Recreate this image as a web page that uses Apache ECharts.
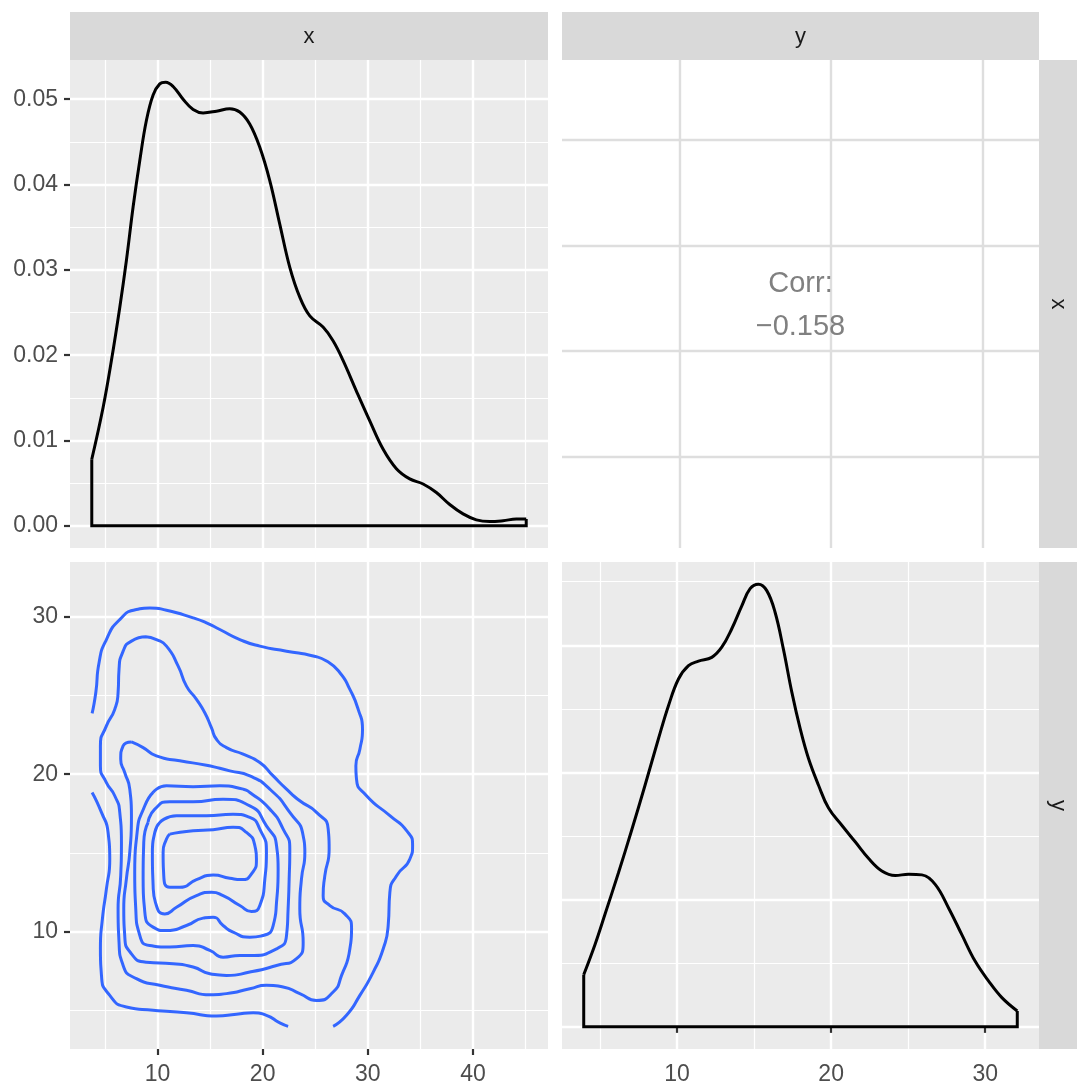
<!DOCTYPE html>
<html><head><meta charset="utf-8">
<script src="https://cdn.jsdelivr.net/npm/echarts@6/dist/echarts.min.js"></script>
<style>html,body{margin:0;padding:0;background:#fff}#c{width:1077px;height:1084px}</style>
</head><body><div id="c"></div>
<script>
// ---------- data ----------
const varNames = ['x', 'y'];
const corrTitle = 'Corr:';
const corrText = '\u22120.158';

// axis limits (ggplot-expanded)
const xVarLim = [1.69, 47.12];
const yVarLim = [2.53, 33.49];
const corrXLim = [2.26, 33.74];
const corrYLim = [1.3, 47.6];
const densXLim = [-0.0026, 0.0546];
const densYLim = [-0.00348, 0.0731];

// ticks
const xVarTicks = [10, 20, 30, 40];
const xVarMinor = [5, 15, 25, 35, 45];
const yVarTicks = [10, 20, 30];
const yVarMinor = [5, 15, 25];
const densXTicks = [0, 0.01, 0.02, 0.03, 0.04, 0.05];
const densXMinor = [0.005, 0.015, 0.025, 0.035, 0.045];
const densYTicks = [0, 0.02, 0.04, 0.06];
const densYMinor = [0.01, 0.03, 0.05, 0.07];

// density of x (diagonal, top-left)
const densXx = [3.76, 4.84, 5.63, 6.42, 7.05, 7.69, 8.32, 8.95, 9.59, 10.22, 10.79, 11.49, 12.44, 13.39, 14.34, 15.61, 16.87, 17.82, 18.77, 19.72, 20.67, 21.62, 22.58, 23.53, 24.48, 25.74, 26.69, 27.64, 28.91, 30.18, 31.44, 32.71, 33.98, 35.25, 36.51, 37.78, 39.05, 40.31, 41.58, 42.85, 44.11, 45.05];
const densXd = [0.0078, 0.0139, 0.0194, 0.0256, 0.0311, 0.0374, 0.0428, 0.0475, 0.0505, 0.0518, 0.0520, 0.0515, 0.0500, 0.0488, 0.0484, 0.0486, 0.0489, 0.0485, 0.0471, 0.0444, 0.0405, 0.0354, 0.0303, 0.0268, 0.0246, 0.0233, 0.0217, 0.0194, 0.0158, 0.0123, 0.0090, 0.0067, 0.0055, 0.0049, 0.0039, 0.0025, 0.0014, 0.0007, 0.0005, 0.0006, 0.0008, 0.0008];

// density of y (diagonal, bottom-right)
const densYx = [3.94, 4.68, 5.32, 6.19, 7.06, 7.92, 8.79, 9.44, 10.09, 10.74, 11.39, 12.25, 12.90, 13.55, 14.20, 14.74, 15.28, 15.82, 16.36, 16.90, 17.45, 17.99, 18.53, 19.18, 19.83, 20.69, 21.56, 22.42, 23.29, 24.16, 25.02, 25.89, 26.75, 27.62, 28.48, 29.35, 30.22, 31.08, 32.08];
const densYd = [0.0082, 0.0130, 0.0177, 0.0242, 0.0310, 0.0380, 0.0453, 0.0505, 0.0547, 0.0568, 0.0575, 0.0581, 0.0597, 0.0626, 0.0662, 0.0689, 0.0696, 0.0686, 0.0652, 0.0594, 0.0526, 0.0469, 0.0422, 0.0380, 0.0344, 0.0317, 0.0291, 0.0265, 0.0245, 0.0238, 0.0240, 0.0239, 0.0224, 0.0187, 0.0145, 0.0103, 0.0072, 0.0046, 0.0025];

// 2d density contours (bottom-left), [x, y]
const contour1a = [[3.79,23.87],[4.14,25.18],[4.45,27.08],[5.15,28.56],[6.42,29.83],[8.00,30.47],[9.27,30.57],[10.86,30.42],[13.39,29.94],[14.66,29.62],[15.93,29.20],[17.83,28.56],[19.73,28.14],[22.27,27.82],[24.80,27.51],[26.07,27.19],[27.34,26.45],[28.29,25.39],[29.08,24.12],[29.49,22.85],[29.24,21.59],[28.86,20.53],[28.92,19.68],[29.87,18.63],[32.09,17.36],[33.68,16.41],[34.25,15.45],[33.99,14.61],[32.73,13.55],[32.09,12.49],[31.93,10.38],[31.46,8.90],[30.51,7.42],[29.24,5.94],[27.97,4.67],[26.70,3.97]];
const contour1b = [[3.79,18.84],[4.68,17.57],[5.31,16.30],[5.47,14.61],[5.15,12.71],[4.77,10.80],[4.58,8.90],[4.68,7.21],[5.47,5.94],[7.05,5.20],[9.59,4.99],[12.76,4.84],[15.61,4.63],[17.51,4.74],[19.10,4.84],[20.36,4.67],[21.63,4.19],[22.42,3.97]];
const contour2 = [[8.89,28.73],[9.90,28.56],[10.86,28.14],[11.97,26.87],[12.76,25.60],[13.71,24.76],[14.50,23.91],[15.13,22.96],[15.61,22.22],[16.56,21.69],[18.15,21.27],[19.73,20.74],[21.00,19.89],[22.27,19.05],[23.53,18.31],[25.12,17.57],[26.23,16.51],[26.32,15.24],[25.91,13.55],[25.75,12.28],[26.39,11.65],[27.81,11.12],[28.45,10.17],[28.29,8.90],[27.50,7.21],[26.70,6.15],[25.12,5.62],[23.53,6.05],[21.95,6.47],[20.36,6.58],[18.78,6.36],[16.56,6.05],[14.98,5.98],[12.76,6.26],[10.22,6.58],[8.00,7.00],[6.74,7.84],[6.35,9.32],[6.26,11.44],[6.51,13.55],[6.58,15.67],[6.42,17.57],[5.94,18.63],[5.15,19.47],[4.58,20.53],[4.58,21.80],[5.15,23.07],[5.94,24.12],[6.26,25.18],[6.35,26.66],[6.74,27.82],[7.53,28.46],[8.89,28.73]];
const contour3 = [[7.53,22.05],[8.64,21.69],[9.90,21.16],[12.12,20.85],[14.66,20.57],[16.88,20.21],[18.78,19.89],[20.68,19.05],[22.58,17.57],[23.85,16.09],[24.01,15.03],[23.69,13.34],[23.53,11.44],[23.85,9.32],[23.22,8.27],[21.32,7.84],[18.78,7.42],[16.56,7.21],[14.98,7.32],[13.39,7.74],[11.49,7.95],[8.95,8.05],[7.53,8.58],[6.89,9.75],[6.80,11.44],[7.05,13.34],[7.37,15.03],[7.53,17.36],[7.37,19.05],[6.89,20.11],[6.51,20.95],[6.74,21.80],[7.53,22.05]];
const contour4 = [[9.59,18.84],[10.86,19.26],[13.39,19.20],[15.93,19.26],[18.15,19.05],[18.78,18.84],[20.68,17.78],[21.95,16.51],[22.58,15.24],[22.52,13.34],[22.42,11.44],[22.27,9.75],[21.32,8.90],[18.78,8.48],[17.83,8.48],[16.24,8.37],[14.98,8.80],[13.39,9.11],[11.17,9.01],[9.27,9.11],[8.32,9.75],[7.94,11.44],[7.84,13.76],[8.07,16.30],[8.80,17.99],[9.59,18.84]];
const contour5 = [[9.11,16.93],[9.75,17.78],[11.17,18.25],[13.39,18.25],[16.24,18.41],[18.78,17.99],[20.36,16.72],[21.32,15.45],[21.47,13.97],[21.32,11.86],[21.00,10.38],[20.05,9.75],[18.78,9.64],[17.19,9.96],[16.24,10.38],[15.29,10.91],[14.34,10.85],[12.76,10.38],[10.86,10.06],[9.59,10.28],[8.80,11.23],[8.64,13.34],[8.70,15.67],[9.11,16.93]];
const contour6 = [[10.22,16.93],[11.81,17.36],[14.66,17.36],[17.19,17.46],[18.78,17.25],[19.73,16.51],[20.36,15.03],[20.21,13.34],[19.73,11.65],[18.94,11.27],[17.83,11.65],[16.24,12.28],[15.13,12.49],[13.71,12.28],[11.81,11.54],[10.70,11.12],[9.90,11.65],[9.59,12.92],[9.52,15.03],[9.75,16.30],[10.22,16.93]];
const contour7 = [[11.17,16.19],[13.39,16.41],[15.29,16.47],[17.19,16.62],[18.46,16.30],[19.26,15.45],[19.41,14.61],[18.94,13.66],[17.99,13.30],[16.88,13.38],[15.29,13.59],[13.71,13.30],[12.12,12.81],[11.17,12.81],[10.60,13.55],[10.54,15.03],[10.86,15.88],[11.17,16.19]];
const contours = [contour1a, contour1b, contour2, contour3, contour4, contour5, contour6, contour7];

// ---------- layout / style ----------
const FONT = 'Liberation Sans, Arial, Helvetica, sans-serif';
const panels = [
  { left: 70,  top: 60,  width: 478, height: 488 },  // TL
  { left: 562, top: 60,  width: 477, height: 488 },  // TR
  { left: 70,  top: 562, width: 478, height: 487 },  // BL
  { left: 562, top: 562, width: 477, height: 487 }   // BR
];
const grids = panels.map((p, i) => Object.assign({
  show: true, backgroundColor: i === 1 ? '#FFFFFF' : '#EBEBEB', borderWidth: 0,
  containLabel: false, outerBoundsMode: 'none'
}, p));

const xAxes = [], yAxes = [];
function addAxes(list, dim, grid, lim, majors, minors, o) {
  const idx = list.length;
  list.push({
    type: 'value', gridIndex: grid, min: lim[0], max: lim[1],
    position: dim === 'x' ? 'bottom' : 'left', z: 2,
    axisLine: { show: false },
    axisTick: { show: !!o.ticks, customValues: majors, length: 6, lineStyle: { color: '#333333', width: 2.2 } },
    axisLabel: { show: !!o.labels, customValues: majors, color: '#4D4D4D', fontSize: 23, fontFamily: FONT,
                 margin: dim === 'x' ? 14 : 12, formatter: o.fmt || (v => String(v)) },
    splitLine: { show: true, lineStyle: { color: o.gridColor || '#FFFFFF', width: 2.4 } },
    minorTick: { show: false }, minorSplitLine: { show: false }
  });
  if (minors && minors.length) {
    list.push({
      type: 'value', gridIndex: grid, min: lim[0], max: lim[1],
      position: dim === 'x' ? 'bottom' : 'left', z: 1,
      axisLine: { show: false },
      axisTick: { show: false, customValues: minors },
      axisLabel: { show: false, customValues: minors },
      splitLine: { show: true, lineStyle: { color: '#FFFFFF', width: 1.2 } }
    });
  }
  return idx;
}

const tlX = addAxes(xAxes, 'x', 0, xVarLim, xVarTicks, xVarMinor, {});
const tlY = addAxes(yAxes, 'y', 0, densXLim, densXTicks, densXMinor, { ticks: true, labels: true, fmt: v => v.toFixed(2) });
const trX = addAxes(xAxes, 'x', 1, corrXLim, yVarTicks, [], { gridColor: '#DEDEDE' });
const trY = addAxes(yAxes, 'y', 1, corrYLim, xVarTicks, [], { gridColor: '#DEDEDE' });
const blX = addAxes(xAxes, 'x', 2, xVarLim, xVarTicks, xVarMinor, { ticks: true, labels: true });
const blY = addAxes(yAxes, 'y', 2, yVarLim, yVarTicks, yVarMinor, { ticks: true, labels: true });
const brX = addAxes(xAxes, 'x', 3, yVarLim, yVarTicks, yVarMinor, { ticks: true, labels: true });
const brY = addAxes(yAxes, 'y', 3, densYLim, densYTicks, densYMinor, {});

const series = [];
function densitySeries(xs, ds, xi, yi) {
  const curve = xs.map((v, i) => [v, ds[i]]);
  const n = xs.length - 1;
  const base = [[xs[n], ds[n]], [xs[n], 0], [xs[0], 0], [xs[0], ds[0]]];
  series.push({ type: 'line', xAxisIndex: xi, yAxisIndex: yi, data: curve, smooth: 0.4, symbol: 'none',
                lineStyle: { color: '#000000', width: 3 }, silent: true, z: 5 });
  series.push({ type: 'line', xAxisIndex: xi, yAxisIndex: yi, data: base, smooth: false, symbol: 'none',
                lineStyle: { color: '#000000', width: 3, join: 'miter' }, silent: true, z: 5 });
}
densitySeries(densXx, densXd, tlX, tlY);
densitySeries(densYx, densYd, brX, brY);
contours.forEach(c => series.push({
  type: 'line', xAxisIndex: blX, yAxisIndex: blY, data: c, smooth: 0.6, symbol: 'none',
  lineStyle: { color: '#3366FF', width: 3 }, silent: true, z: 5
}));

// strips and correlation text
const stripFill = '#D9D9D9';
const graphic = [
  { type: 'rect', shape: { x: 70, y: 12, width: 478, height: 48 }, style: { fill: stripFill } },
  { type: 'rect', shape: { x: 562, y: 12, width: 477, height: 48 }, style: { fill: stripFill } },
  { type: 'rect', shape: { x: 1039, y: 60, width: 38, height: 488 }, style: { fill: stripFill } },
  { type: 'rect', shape: { x: 1039, y: 562, width: 38, height: 487 }, style: { fill: stripFill } },
  { type: 'text', x: 309, y: 37, style: { text: varNames[0], font: '22px ' + FONT, fill: '#1A1A1A', textAlign: 'center', textVerticalAlign: 'middle' } },
  { type: 'text', x: 800.5, y: 37, style: { text: varNames[1], font: '22px ' + FONT, fill: '#1A1A1A', textAlign: 'center', textVerticalAlign: 'middle' } },
  { type: 'text', x: 1058, y: 304, rotation: -Math.PI / 2, style: { text: varNames[0], font: '22px ' + FONT, fill: '#1A1A1A', textAlign: 'center', textVerticalAlign: 'middle' } },
  { type: 'text', x: 1058, y: 805.5, rotation: -Math.PI / 2, style: { text: varNames[1], font: '22px ' + FONT, fill: '#1A1A1A', textAlign: 'center', textVerticalAlign: 'middle' } },
  { type: 'text', x: 800.5, y: 283.5, z: 10, style: { text: corrTitle, font: '29px ' + FONT, fill: '#808080', textAlign: 'center', textVerticalAlign: 'middle' } },
  { type: 'text', x: 800.5, y: 326.5, z: 10, style: { text: corrText, font: '29px ' + FONT, fill: '#808080', textAlign: 'center', textVerticalAlign: 'middle' } }
];

const chart = echarts.init(document.getElementById('c'), null, { renderer: 'canvas' });
chart.setOption({
  animation: false,
  backgroundColor: '#FFFFFF',
  grid: grids,
  xAxis: xAxes,
  yAxis: yAxes,
  series: series,
  graphic: graphic
});
</script></body></html>
